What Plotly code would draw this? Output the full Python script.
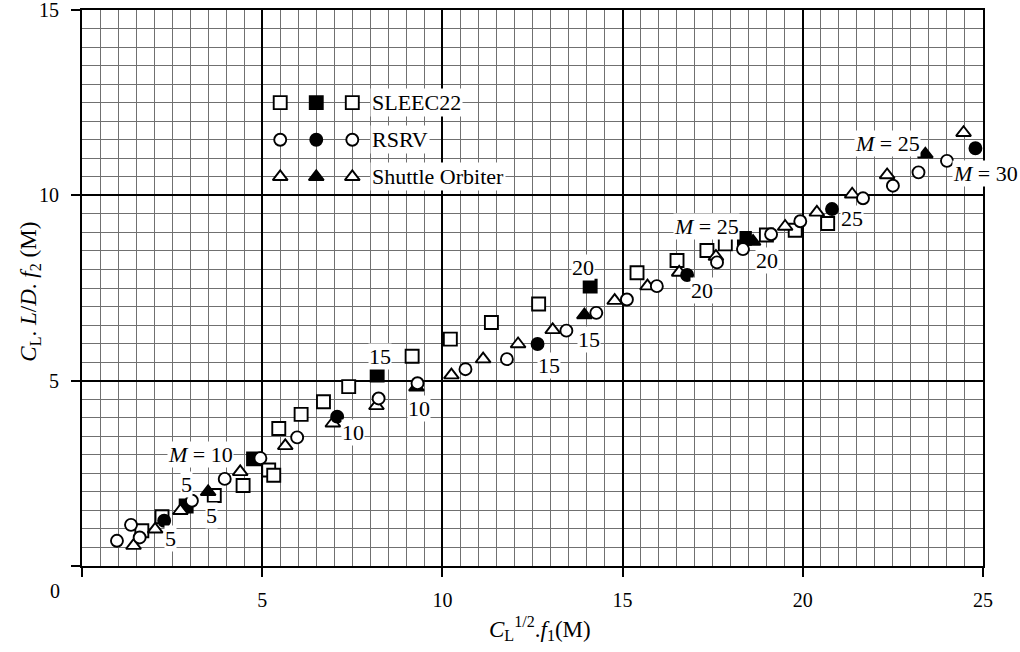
import plotly.graph_objects as go

# ---------------- data ----------------
sleec_open_x = [1.66, 2.22, 3.67, 4.47, 5.18, 5.32, 5.46, 6.08, 6.70, 7.40, 9.16, 10.22, 11.36, 12.67,
                15.40, 16.51, 17.34, 17.85, 18.99, 19.79, 20.69]
sleec_open_y = [0.95, 1.33, 1.90, 2.17, 2.59, 2.45, 3.71, 4.09, 4.43, 4.84, 5.66, 6.12, 6.57, 7.07,
                7.91, 8.24, 8.51, 8.69, 8.93, 9.06, 9.24]
sleec_fill_x = [2.89, 4.76, 8.19, 14.10, 18.38]
sleec_fill_y = [1.62, 2.89, 5.15, 7.55, 8.84]

rsrv_open_x = [0.97, 1.36, 1.60, 3.05, 3.96, 4.95, 5.97, 8.23, 9.31, 10.64, 11.79, 13.44, 14.27, 15.12,
               15.95, 17.62, 18.34, 19.12, 19.93, 21.67, 22.50, 23.21, 24.00]
rsrv_open_y = [0.68, 1.11, 0.77, 1.76, 2.35, 2.91, 3.47, 4.52, 4.93, 5.31, 5.58, 6.35, 6.83, 7.19,
               7.55, 8.19, 8.55, 8.95, 9.30, 9.92, 10.26, 10.62, 10.93]
rsrv_fill_x = [2.28, 7.08, 12.64, 16.79, 20.81, 24.79]
rsrv_fill_y = [1.22, 4.03, 5.99, 7.85, 9.63, 11.27]

shuttle_open_x = [1.43, 2.03, 2.73, 4.39, 5.64, 6.96, 8.17, 10.25, 11.13, 12.10, 13.06, 14.78, 15.69,
                  16.57, 17.59, 19.51, 20.39, 21.37, 22.34, 24.46]
shuttle_open_y = [0.55, 0.99, 1.49, 2.54, 3.24, 3.85, 4.32, 5.15, 5.58, 5.99, 6.37, 7.16, 7.55,
                  7.92, 8.35, 9.16, 9.54, 10.03, 10.55, 11.69]
shuttle_fill_x = [3.50, 9.28, 13.94, 18.62, 23.40]
shuttle_fill_y = [2.00, 4.82, 6.77, 8.75, 11.11]

# Mach-number labels
label_text = ["<i>M</i> = 10", "5", "5", "5", "10", "15", "10", "15", "15", "20", "20",
              "<i>M</i> = 25", "20", "25", "<i>M</i> = 25", "<i>M</i> = 30"]
label_x = [3.28, 2.91, 3.58, 2.45, 7.53, 8.28, 9.34, 12.95, 14.06, 13.91, 17.20,
           17.34, 19.01, 21.37, 22.34, 25.06]
label_y = [3.02, 2.19, 1.36, 0.74, 3.59, 5.64, 4.26, 5.40, 6.12, 8.04, 7.43,
           9.17, 8.24, 9.38, 11.40, 10.59]

# legend
legend_names = ["SLEEC22", "RSRV", "Shuttle Orbiter"]
legend_symbols = ["square", "circle", "triangle-up"]
legend_cols = [5.5, 6.5, 7.5]
legend_rows = [12.5, 11.5, 10.5]
legend_fill = [False, True, False]

x_range = [0, 25]
y_range = [0, 15]
x_tickvals = [0, 5, 10, 15, 20, 25]
x_ticktext = ["", "5", "10", "15", "20", "25"]
y_tickvals = [0, 5, 10, 15]
y_ticktext = ["", "5", "10", "15"]

FONT = "Liberation Serif, Times New Roman, serif"
sizes = {"square": 13, "circle": 12, "triangle-up": 13}

ML, MR, MT, MB = 82, 37, 10, 86
W, H = 1020, 652
px_per_x = (W - ML - MR) / (x_range[1] - x_range[0])

fig = go.Figure()


def add(xs, ys, symbol, filled):
    fig.add_trace(go.Scatter(
        x=xs, y=ys, mode="markers", showlegend=False, hoverinfo="skip",
        marker=dict(symbol=symbol, size=sizes[symbol],
                    color="black" if filled else "white",
                    line=dict(color="black", width=1.9)),
        cliponaxis=False))


add(sleec_open_x, sleec_open_y, "square", False)
add(sleec_fill_x, sleec_fill_y, "square", True)
add(shuttle_open_x, shuttle_open_y, "triangle-up", False)
add(shuttle_fill_x, shuttle_fill_y, "triangle-up", True)
add(rsrv_open_x, rsrv_open_y, "circle", False)
add(rsrv_fill_x, rsrv_fill_y, "circle", True)

# legend rows
for name, sym, ry in zip(legend_names, legend_symbols, legend_rows):
    xs = legend_cols
    ys = [ry] * len(xs)
    fig.add_trace(go.Scatter(
        x=xs, y=ys, mode="markers", showlegend=False, hoverinfo="skip",
        marker=dict(symbol=sym, size=sizes[sym],
                    color=["white" if not f else "black" for f in legend_fill],
                    line=dict(color="black", width=1.9))))
    fig.add_annotation(x=8.0, y=ry, xref="x", yref="y", text=name, showarrow=False,
                       xanchor="left", yanchor="middle", bgcolor="white", borderpad=1,
                       font=dict(family=FONT, size=22, color="black"))

for t, lx, ly in zip(label_text, label_x, label_y):
    ax = min(lx, x_range[1])
    fig.add_annotation(x=ax, y=ly, xref="x", yref="y", text=t, showarrow=False,
                       xshift=(lx - ax) * px_per_x,
                       xanchor="center", yanchor="middle", bgcolor="white", borderpad=0,
                       font=dict(family=FONT, size=22, color="black"))

# corner "0"
fig.add_annotation(x=0, y=0, xref="x", yref="y", text="0", showarrow=False,
                   xshift=-27, yshift=-25, font=dict(family=FONT, size=20, color="black"))

# axis titles
fig.add_annotation(x=0.508, y=-0.112, xref="paper", yref="paper", showarrow=False,
                   text="<i>C</i><sub>L</sub><sup>1/2</sup>.<i>f</i><sub>1</sub>(M)",
                   xanchor="center", yanchor="middle",
                   font=dict(family=FONT, size=23, color="black"))
fig.add_annotation(x=-0.058, y=0.493, xref="paper", yref="paper", showarrow=False,
                   text="<i>C</i><sub>L</sub>. <i>L</i>/<i>D</i>. <i>f</i><sub>2</sub> (M)",
                   textangle=-90, xanchor="center", yanchor="middle",
                   font=dict(family=FONT, size=23, color="black"))

common = dict(
    ticks="outside", ticklen=9, tickwidth=2, tickcolor="black",
    showline=True, linecolor="black", linewidth=2, mirror=True,
    showgrid=True, gridcolor="black", gridwidth=2, zeroline=False,
    minor=dict(dtick=0.5, tick0=0, showgrid=True, gridcolor="#707070", gridwidth=1, ticks=""),
    tickfont=dict(family=FONT, size=20, color="black"), automargin=False,
    ticklabeloverflow="allow",
)
fig.update_xaxes(range=x_range, tickvals=x_tickvals, ticktext=x_ticktext,
                 ticklabelstandoff=6, **common)
fig.update_yaxes(range=y_range, tickvals=y_tickvals, ticktext=y_ticktext,
                 ticklabelstandoff=8, **common)

fig.update_layout(
    width=W, height=H,
    margin=dict(l=ML, r=MR, t=MT, b=MB, autoexpand=False),
    paper_bgcolor="white", plot_bgcolor="white",
    showlegend=False,
)

fig.write_html("out.html", config={"displayModeBar": False},
               post_script="document.body.style.margin='0';document.body.style.overflow='hidden';")
